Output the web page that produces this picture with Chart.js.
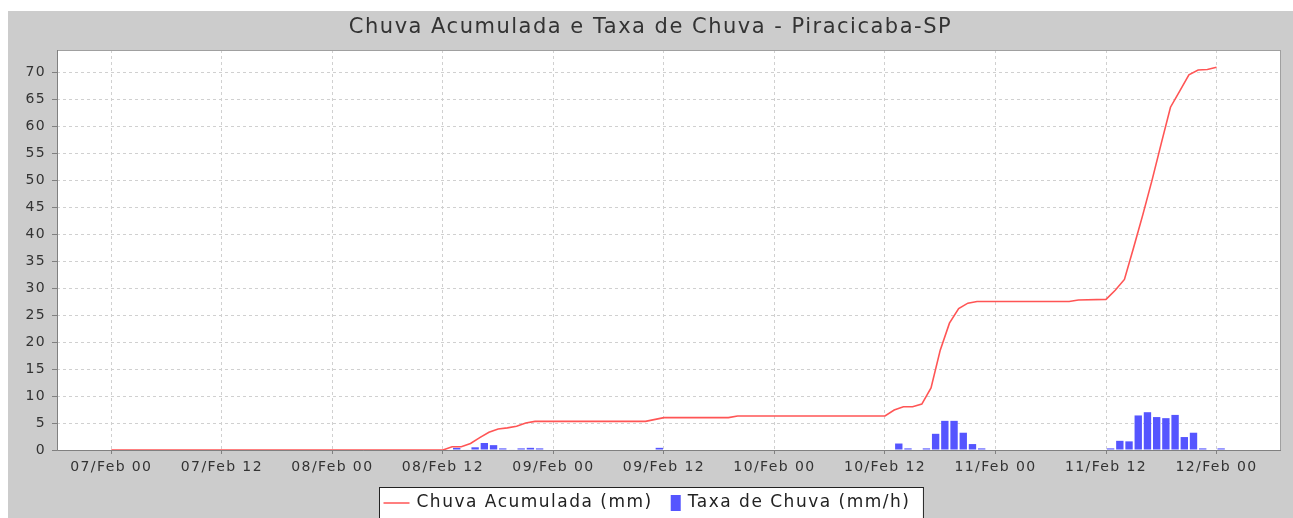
<!DOCTYPE html>
<html>
<head>
<meta charset="utf-8">
<script src="https://cdn.jsdelivr.net/npm/chart.js@4.4.1/dist/chart.umd.min.js"></script>
<style>
    html, body { margin: 0; padding: 0; background: #fff; }
</style>
</head>
<body>
<canvas id="chart" width="1293" height="518"></canvas>
<script>
const titleText = 'Chuva Acumulada e Taxa de Chuva - Piracicaba-SP';

// x values are hours counted from 07/Feb 00
const xTickHours = [0, 12, 24, 36, 48, 60, 72, 84, 96, 108, 120];
const xTickLabels = ['07/Feb 00', '07/Feb 12', '08/Feb 00', '08/Feb 12', '09/Feb 00', '09/Feb 12',
    '10/Feb 00', '10/Feb 12', '11/Feb 00', '11/Feb 12', '12/Feb 00'];
const yTicks = [0, 5, 10, 15, 20, 25, 30, 35, 40, 45, 50, 55, 60, 65, 70];

// Chuva Acumulada (mm)
const accumHours = [0, 36, 37, 38, 39, 40, 41, 42, 43, 44, 45, 46, 58, 60, 67, 68,
    84, 85, 86, 87, 88, 89, 90, 91, 92, 93, 94, 104, 105, 108,
    109, 110, 111, 112, 113, 114, 115, 116, 117, 118, 119, 120];
const accumMm = [0, 0, 0.6, 0.6, 1.2, 2.3, 3.3, 3.9, 4.1, 4.4, 5.0, 5.3, 5.3, 6.0, 6.0, 6.3,
    6.3, 7.4, 8.0, 8.0, 8.5, 11.5, 18.5, 23.5, 26.2, 27.2, 27.5, 27.5, 27.8, 27.9,
    29.6, 31.6, 37.5, 43.6, 50.0, 56.8, 63.5, 66.5, 69.5, 70.4, 70.5, 70.9];

// Taxa de Chuva (mm/h), hourly bars (mid-hour)
const rateHours = [37.5, 38.5, 39.5, 40.5, 41.5, 42.5, 43.5, 44.5, 45.5, 46.5, 59.5,
    85.5, 86.5, 88.5, 89.5, 90.5, 91.5, 92.5, 93.5, 94.5,
    108.5, 109.5, 110.5, 111.5, 112.5, 113.5, 114.5, 115.5, 116.5, 117.5, 118.5, 120.5];
const rateMmH = [0.4, 0.1, 0.5, 1.3, 0.9, 0.3, 0.1, 0.3, 0.4, 0.3, 0.4,
    1.2, 0.3, 0.3, 3.0, 5.4, 5.4, 3.2, 1.1, 0.3,
    0.3, 1.7, 1.6, 6.4, 7.0, 6.1, 5.9, 6.5, 2.4, 3.2, 0.3, 0.3];

const FONT = 'DejaVu Sans';

const framePlugin = {
    id: 'frame',
    beforeDraw(chart) {
        const { ctx, chartArea: a } = chart;
        ctx.save();
        ctx.fillStyle = '#ffffff';
        ctx.fillRect(0, 0, chart.width, chart.height);
        ctx.fillStyle = '#cccccc';
        ctx.fillRect(8, 11, chart.width - 8, chart.height - 11);
        ctx.fillStyle = '#ffffff';
        ctx.fillRect(a.left, a.top, a.right - a.left, a.bottom - a.top);
        ctx.restore();
        ctx.letterSpacing = '1.4px'; // tick labels
    },
    beforeDatasetsDraw(chart) {
        const { ctx, chartArea: a } = chart;
        ctx.save();
        ctx.lineWidth = 1;
        ctx.strokeStyle = '#a0a0a0';
        ctx.strokeRect(a.left + 0.5, a.top + 0.5, a.right - a.left - 1, a.bottom - a.top);
        ctx.strokeStyle = '#808080';
        ctx.beginPath();
        ctx.moveTo(a.left + 0.5, a.top);
        ctx.lineTo(a.left + 0.5, a.bottom + 0.5);
        ctx.lineTo(a.right, a.bottom + 0.5);
        ctx.stroke();
        ctx.restore();
    },
    afterDraw(chart) {
        const ctx = chart.ctx;
        const cx = (8 + chart.width) / 2;
        ctx.save();

        // title
        ctx.letterSpacing = '1.5px';
        ctx.font = `21px "${FONT}"`;
        ctx.fillStyle = '#333333';
        ctx.textAlign = 'center';
        ctx.textBaseline = 'middle';
        ctx.fillText(titleText, cx, 28);

        // legend
        ctx.letterSpacing = '1.5px';
        ctx.font = `17px "${FONT}"`;
        ctx.textAlign = 'left';
        const [lineDs, barDs] = chart.data.datasets;
        const w1 = ctx.measureText(lineDs.label).width;
        const w2 = ctx.measureText(barDs.label).width;
        const content = 26 + 7 + w1 + 18 + 10 + 7 + w2;
        const boxW = content + 17;
        const boxL = Math.round(cx - boxW / 2) + 0.5;
        const y = 503;
        ctx.fillStyle = '#ffffff';
        ctx.fillRect(boxL, 487.5, boxW, 40);
        ctx.strokeStyle = '#222222';
        ctx.lineWidth = 1;
        ctx.strokeRect(boxL, 487.5, boxW, 40);

        let x = boxL + 4;
        ctx.strokeStyle = lineDs.borderColor;
        ctx.lineWidth = 1.5;
        ctx.beginPath();
        ctx.moveTo(x, y);
        ctx.lineTo(x + 26, y);
        ctx.stroke();
        x += 33;
        ctx.fillStyle = '#222222';
        ctx.fillText(lineDs.label, x, y);
        x += w1 + 18;
        ctx.fillStyle = barDs.backgroundColor;
        ctx.fillRect(x, y - 8, 10, 16);
        x += 17;
        ctx.fillStyle = '#222222';
        ctx.fillText(barDs.label, x, y);
        ctx.restore();
    }
};

const tickFont = { family: FONT, size: 14 };

new Chart(document.getElementById('chart'), {
    type: 'bar',
    data: {
        datasets: [
            {
                type: 'line',
                label: 'Chuva Acumulada (mm)',
                data: accumHours.map((h, i) => ({ x: h, y: accumMm[i] })),
                borderColor: '#ff5555',
                borderWidth: 1.6,
                pointRadius: 0,
                tension: 0,
                fill: false,
                order: 1
            },
            {
                type: 'bar',
                label: 'Taxa de Chuva (mm/h)',
                data: rateHours.map((h, i) => ({ x: h, y: rateMmH[i] })),
                backgroundColor: '#5555ff',
                borderWidth: 0,
                barPercentage: 0.8,
                categoryPercentage: 1,
                order: 2
            }
        ]
    },
    options: {
        responsive: false,
        animation: false,
        layout: { padding: { left: 8, top: 50, right: 12, bottom: 38 } },
        plugins: {
            legend: { display: false },
            title: { display: false },
            tooltip: { enabled: false }
        },
        scales: {
            x: {
                type: 'linear',
                min: -5.9,
                max: 127,
                offset: false,
                afterBuildTicks: s => { s.ticks = xTickHours.map(v => ({ value: v })); },
                afterFit: s => { s.height = 30; },
                ticks: {
                    color: '#333333',
                    font: tickFont,
                    padding: 5,
                    maxRotation: 0,
                    autoSkip: false,
                    callback: v => xTickLabels[xTickHours.indexOf(v)]
                },
                grid: { color: '#d0d0d0', offset: false, tickLength: 4, tickColor: '#808080', tickBorderDash: [] },
                border: { display: false, dash: [3, 3] }
            },
            y: {
                type: 'linear',
                min: 0,
                max: 74.1,
                afterBuildTicks: s => { s.ticks = yTicks.map(v => ({ value: v })); },
                afterFit: s => { s.width = 49; },
                ticks: { color: '#333333', font: tickFont, padding: 6 },
                grid: { color: '#d0d0d0', tickLength: 5, tickColor: '#808080', tickBorderDash: [] },
                border: { display: false, dash: [3, 3] }
            }
        }
    },
    plugins: [framePlugin]
});
</script>
</body>
</html>
